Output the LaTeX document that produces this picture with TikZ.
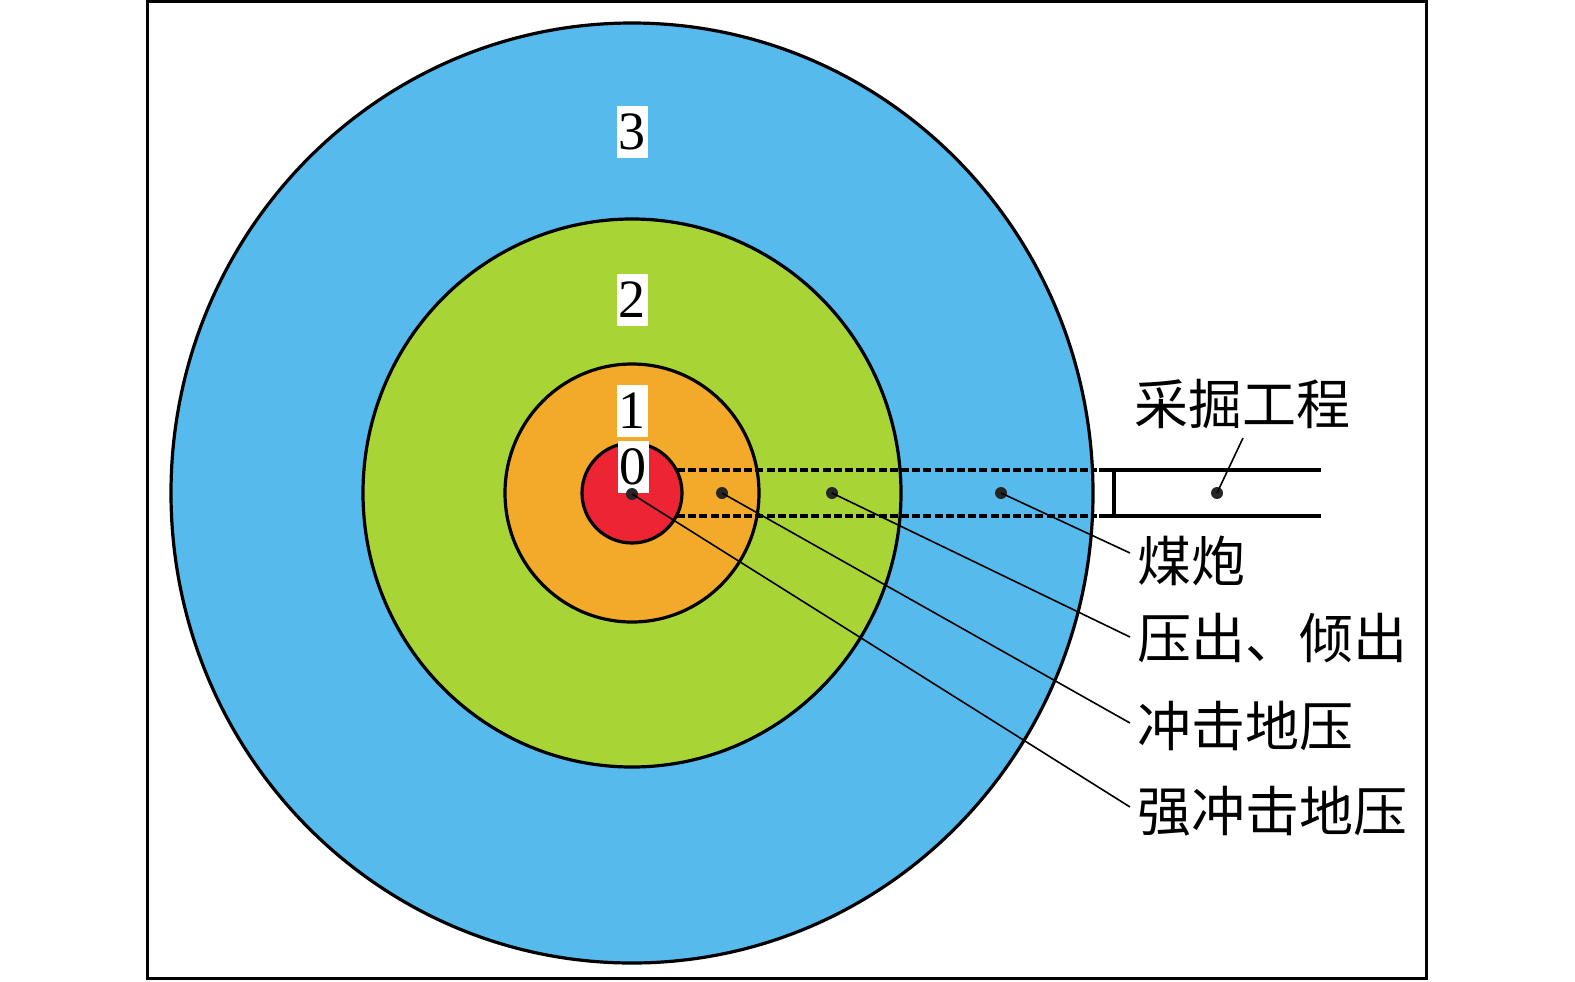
\documentclass[tikz,border=0pt]{standalone}
\usepackage{fontspec}
\setmainfont{Liberation Serif}
\newfontfamily\cjk{Noto Sans CJK SC}
\usetikzlibrary{positioning}
\definecolor{zoneblue}{RGB}{86,186,236}
\definecolor{zonegreen}{RGB}{168,212,54}
\definecolor{zoneorange}{RGB}{243,170,42}
\definecolor{zonered}{RGB}{236,36,52}
\tikzstyle{zone} = [draw=black, line width=1.6pt]
\tikzstyle{zonenum} = [fill=white, inner xsep=1pt, inner ysep=0pt, minimum height=26pt, font=\fontsize{27}{27}\selectfont]
\tikzstyle{dot} = [circle, fill=black!85, inner sep=0pt, minimum size=6pt]
\tikzstyle{leader} = [line width=0.8pt]
\tikzstyle{eventtext} = [anchor=base west, inner sep=0pt, font=\cjk\fontsize{27}{27}\selectfont]
\tikzstyle{tunnel} = [line width=1.6pt]

\begin{document}
\begin{tikzpicture}[x=0.5pt, y=-0.5pt]
    \useasboundingbox (0,0) rectangle (1575,981);
    \draw [line width=1.5pt] (147,1) rectangle (1426,978);

    % Zones
    \filldraw [zone, fill=zoneblue] (632,493) ellipse [x radius=461, y radius=470];
    \filldraw [zone, fill=zonegreen] (632,493) ellipse [x radius=269, y radius=274];
    \filldraw [zone, fill=zoneorange] (632,493) ellipse [x radius=127, y radius=129];
    \filldraw [zone, fill=zonered] (632,493) circle [radius=50];

    % Tunnel
    \draw [tunnel, dash pattern=on 4pt off 1.6pt] (677,470) -- (1097,470);
    \draw [tunnel, dash pattern=on 4pt off 1.6pt] (677,516) -- (1097,516);
    \draw [tunnel] (1099,470) -- (1321,470);
    \draw [tunnel] (1099,516) -- (1321,516);
    \draw [tunnel] (1114,470) -- (1114,518);

    % Nodes
    \node (n3) [zonenum] at (632,132) {3};
    \node (n2) [zonenum] at (632,300) {2};
    \node (n1) [zonenum] at (632,411) {1};
    \node (n0) [zonenum] at (633,467) {0};

    \node (d0) [dot] at (632,494) {};
    \node (d1) [dot] at (722,493) {};
    \node (d2) [dot] at (832,493) {};
    \node (d3) [dot] at (1001,493) {};
    \node (dt) [dot] at (1217,493) {};

    \node (work) [eventtext] at (1134,424) {采掘工程};
    \node (coal) [eventtext] at (1137,581) {煤炮};
    \node (outburst) [eventtext] at (1137,658) {压出、倾出};
    \node (burst) [eventtext] at (1137,746) {冲击地压};
    \node (strong) [eventtext] at (1137,831) {强冲击地压};

    \coordinate (workend) at (1243,438);
    \coordinate (coalend) at (1130,553);
    \coordinate (outend) at (1130,637);
    \coordinate (burstend) at (1130,723);
    \coordinate (strongend) at (1130,807);

    % Leaders
    \draw [leader] (dt.center) -- (workend);
    \draw [leader] (d3.center) -- (coalend);
    \draw [leader] (d2.center) -- (outend);
    \draw [leader] (d1.center) -- (burstend);
    \draw [leader] (d0.center) -- (strongend);
\end{tikzpicture}
\end{document}
